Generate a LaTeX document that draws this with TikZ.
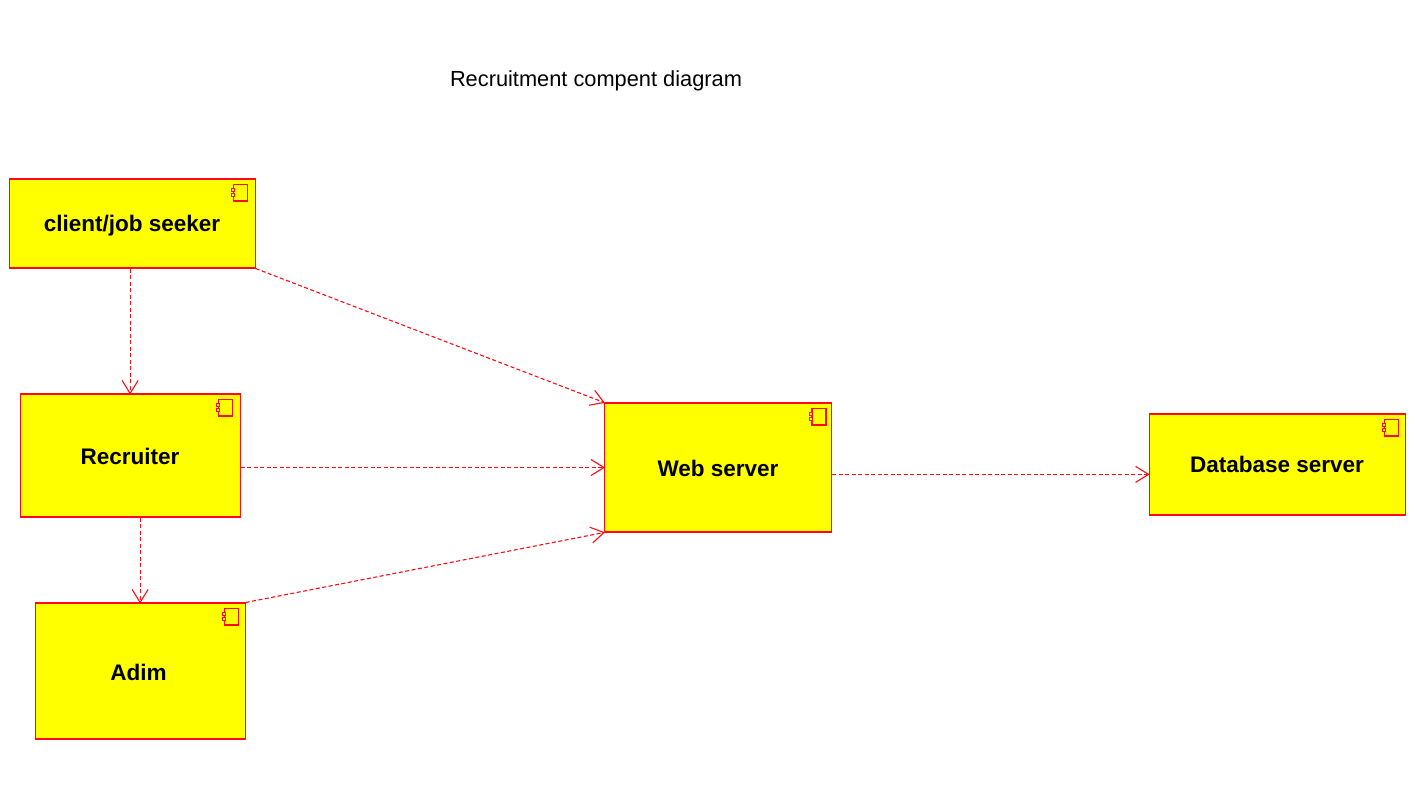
\documentclass[tikz,border=0pt]{standalone}
\usepackage{fontspec}
\setmainfont{Liberation Sans}
\usetikzlibrary{arrows.meta}
\definecolor{umlred}{RGB}{255,10,20}
\definecolor{umlyellow}{RGB}{255,255,0}
\pgfdeclarearrow{
  name=OpenVee,
  parameters={\the\pgfarrowlength,\the\pgfarrowwidth},
  setup code={
    \pgfarrowssettipend{0pt}
    \pgfarrowssetbackend{-\pgfarrowlength}
    \pgfarrowssetlineend{-0.5pt}
    \pgfarrowssavethe\pgfarrowlength
    \pgfarrowssavethe\pgfarrowwidth
  },
  drawing code={
    \pgfsetdash{}{0pt}
    \pgfpathmoveto{\pgfpoint{-\pgfarrowlength}{.5\pgfarrowwidth}}
    \pgfpathlineto{\pgfpoint{0pt}{0pt}}
    \pgfpathlineto{\pgfpoint{-\pgfarrowlength}{-.5\pgfarrowwidth}}
    \pgfusepathqstroke
  },
  defaults={length=13pt,width=16pt}
}
\tikzset{
  comp/.style={draw=umlred,fill=umlyellow,line width=1.1pt,rectangle,inner sep=0pt,
    text height=8pt,text depth=8pt,
    font=\fontsize{22.5}{26}\bfseries\selectfont,text=black},
  dep/.style={draw=umlred,line width=1.1pt,dash pattern=on 4pt off 2.5pt,-{OpenVee}},
  icon/.style={draw=umlred,line width=1.4pt,fill=umlyellow},
  tab/.style={draw=umlred,line width=1pt,fill=umlyellow}
}
\newcommand{\compicon}[2]{%
  \begin{scope}[shift={(#1.north east)},xshift=-#2pt,yshift=-6pt]
    \draw[icon] (-14,0) rectangle (0,16.5);
    \draw[tab] (-16.5,4) rectangle (-13.5,7);
    \draw[tab] (-16.5,9) rectangle (-13.5,12);
  \end{scope}}
\newcommand{\complabel}[2]{\raisebox{-#1pt}{#2}}
\begin{document}
\begin{tikzpicture}[x=1pt,y=-1pt]
\useasboundingbox (0,0) rectangle (1415,794);
\node[font=\fontsize{21.8}{26}\selectfont,text=black] (title) at (596,80.5) {Recruitment compent diagram};
\node[comp,minimum width=246pt,minimum height=89pt] (client) at (132.1,223.5) {\complabel{8.5}{client/job seeker}};
\node[comp,minimum width=220pt,minimum height=123pt] (recruiter) at (130.1,455.5) {\complabel{8.5}{Recruiter}};
\node[comp,minimum width=210pt,minimum height=136pt] (adim) at (140.1,671) {\complabel{9}{Adim\kern3pt}};
\node[comp,minimum width=227pt,minimum height=129pt] (web) at (718,467.5) {\complabel{8.5}{Web server}};
\node[comp,minimum width=256pt,minimum height=101pt] (db) at (1277.1,464.5) {\complabel{7.5}{Database server}};
\compicon{client}{8}
\compicon{recruiter}{8}
\compicon{adim}{7}
\compicon{web}{6}
\compicon{db}{7}
\draw[dep] ([xshift=-2pt]client.south) -- (recruiter.north);
\draw[dep] (client.south east) -- (web.north west);
\draw[dep] ([yshift=-12pt]recruiter.east) -- (web.west);
\draw[dep] (recruiter.south -| adim.north) -- (adim.north);
\draw[dep] (adim.north east) -- (web.south west);
\draw[dep] ([yshift=-6.9pt]web.east) -- ([yshift=-9.9pt]db.west);
\end{tikzpicture}
\end{document}
